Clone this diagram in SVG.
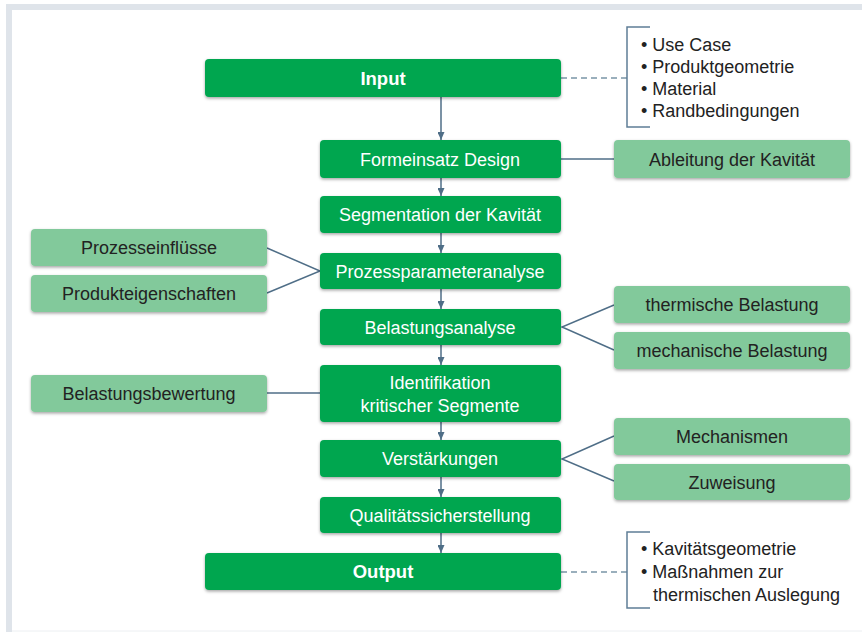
<svg xmlns="http://www.w3.org/2000/svg" width="862" height="632" viewBox="0 0 862 632">
<defs>
<filter id="sh" x="-10%" y="-30%" width="120%" height="170%">
<feDropShadow dx="0" dy="1.5" stdDeviation="1.5" flood-color="#000" flood-opacity="0.35"/>
</filter>
<marker id="ah" viewBox="0 0 8 7" refX="8" refY="3.5" markerWidth="8" markerHeight="7" markerUnits="userSpaceOnUse" orient="auto">
<path d="M0,0 L8,3.5 L0,7 z" fill="#4f6e87"/>
</marker>
<style>
.dk{fill:#00a650;filter:url(#sh)}
.lt{fill:#82c99b;filter:url(#sh)}
.wt{font-family:"Liberation Sans",Arial,sans-serif;font-size:18px;fill:#fff;text-anchor:middle}
.bt{font-family:"Liberation Sans",Arial,sans-serif;font-size:18.5px;font-weight:bold;fill:#fff;text-anchor:middle}
.dt{font-family:"Liberation Sans",Arial,sans-serif;font-size:18px;fill:#222;text-anchor:middle}
.lst{font-family:"Liberation Sans",Arial,sans-serif;font-size:18px;fill:#222}
.c{stroke:#4f6e87;stroke-width:1.5;fill:none}
.d{stroke:#7a95a6;stroke-width:1.5;fill:none;stroke-dasharray:6 4}
.br{stroke:#5f7e96;stroke-width:1.5;fill:none}
</style>
</defs>
<rect x="0" y="0" width="862" height="632" fill="#fff"/>
<path d="M6,632 V4 H862 V10 H12 V632 Z" fill="#dfe4ea"/>
<line x1="12" y1="631" x2="862" y2="631" stroke="#eceff2" stroke-width="1"/>

<g id="connectors">
<line class="c" x1="441" y1="97" x2="441" y2="140" marker-end="url(#ah)"/>
<line class="c" x1="441" y1="178" x2="441" y2="196" marker-end="url(#ah)"/>
<line class="c" x1="441" y1="233" x2="441" y2="253" marker-end="url(#ah)"/>
<line class="c" x1="441" y1="289" x2="441" y2="309" marker-end="url(#ah)"/>
<line class="c" x1="441" y1="345" x2="441" y2="365" marker-end="url(#ah)"/>
<line class="c" x1="441" y1="422" x2="441" y2="440" marker-end="url(#ah)"/>
<line class="c" x1="441" y1="477" x2="441" y2="497" marker-end="url(#ah)"/>
<line class="c" x1="441" y1="533" x2="441" y2="553" marker-end="url(#ah)"/>
<line class="c" x1="561" y1="159" x2="614" y2="159"/>
<polyline class="c" points="267,248 320,271 267,293"/>
<line class="c" x1="267" y1="393" x2="320" y2="393"/>
<polyline class="c" points="614,305 562,327 614,350"/>
<polyline class="c" points="614,436 562,459 614,481"/>
<line class="d" x1="561" y1="78" x2="627" y2="78"/>
<line class="d" x1="561" y1="572" x2="627" y2="572"/>
<polyline class="br" points="650,27 627,27 627,127 650,127"/>
<polyline class="br" points="650,532 627,532 627,608 650,608"/>
</g>

<g id="n-input"><rect class="dk" x="205" y="59" width="356" height="38" rx="4"/><text class="bt" x="383" y="85">Input</text></g>
<g id="n-formeinsatz"><rect class="dk" x="320" y="140" width="241" height="38" rx="4"/><text class="wt" x="440" y="165.5">Formeinsatz Design</text></g>
<g id="n-segmentation"><rect class="dk" x="320" y="196" width="241" height="37" rx="4"/><text class="wt" x="440" y="221">Segmentation der Kavität</text></g>
<g id="n-prozessparameter"><rect class="dk" x="320" y="253" width="241" height="36" rx="4"/><text class="wt" x="440" y="277.5">Prozessparameteranalyse</text></g>
<g id="n-belastungsanalyse"><rect class="dk" x="320" y="309" width="241" height="36" rx="4"/><text class="wt" x="440" y="333.5">Belastungsanalyse</text></g>
<g id="n-identifikation"><rect class="dk" x="320" y="365" width="241" height="57" rx="4"/><text class="wt" x="440" y="389">Identifikation</text><text class="wt" x="440" y="412">kritischer Segmente</text></g>
<g id="n-verstaerkungen"><rect class="dk" x="320" y="440" width="241" height="37" rx="4"/><text class="wt" x="440" y="465">Verstärkungen</text></g>
<g id="n-qualitaet"><rect class="dk" x="320" y="497" width="241" height="36" rx="4"/><text class="wt" x="440" y="521.5">Qualitätssicherstellung</text></g>
<g id="n-output"><rect class="dk" x="205" y="553" width="356" height="37" rx="4"/><text class="bt" x="383" y="578">Output</text></g>

<g id="n-ableitung"><rect class="lt" x="614" y="140" width="236" height="38" rx="4"/><text class="dt" x="732" y="165.5">Ableitung der Kavität</text></g>
<g id="n-prozesseinfluesse"><rect class="lt" x="31" y="229" width="236" height="37" rx="4"/><text class="dt" x="149" y="254">Prozesseinflüsse</text></g>
<g id="n-produkteigenschaften"><rect class="lt" x="31" y="275" width="236" height="37" rx="4"/><text class="dt" x="149" y="300">Produkteigenschaften</text></g>
<g id="n-thermisch"><rect class="lt" x="614" y="286" width="236" height="37" rx="4"/><text class="dt" x="732" y="311">thermische Belastung</text></g>
<g id="n-mechanisch"><rect class="lt" x="614" y="332" width="236" height="37" rx="4"/><text class="dt" x="732" y="357">mechanische Belastung</text></g>
<g id="n-belastungsbewertung"><rect class="lt" x="31" y="375" width="236" height="37" rx="4"/><text class="dt" x="149" y="400">Belastungsbewertung</text></g>
<g id="n-mechanismen"><rect class="lt" x="614" y="418" width="236" height="37" rx="4"/><text class="dt" x="732" y="443">Mechanismen</text></g>
<g id="n-zuweisung"><rect class="lt" x="614" y="464" width="236" height="36" rx="4"/><text class="dt" x="732" y="488.5">Zuweisung</text></g>

<g id="n-input-list">
<text class="lst" x="641" y="51">• Use Case</text>
<text class="lst" x="641" y="73">• Produktgeometrie</text>
<text class="lst" x="641" y="95">• Material</text>
<text class="lst" x="641" y="117">• Randbedingungen</text>
</g>
<g id="n-output-list">
<text class="lst" x="641" y="555">• Kavitätsgeometrie</text>
<text class="lst" x="641" y="578">• Maßnahmen zur</text>
<text class="lst" x="653" y="601">thermischen Auslegung</text>
</g>
</svg>
